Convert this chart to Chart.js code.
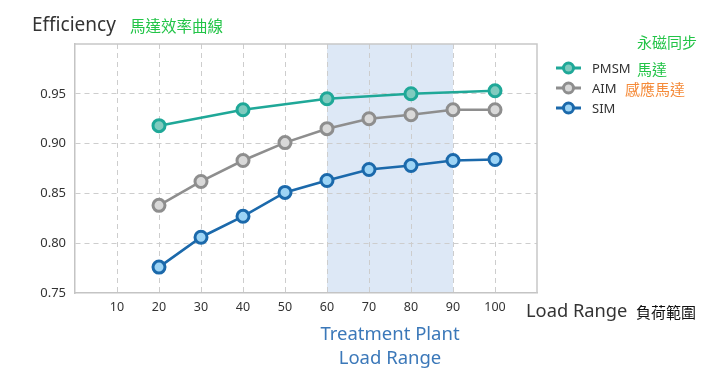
<!DOCTYPE html>
<html><head><meta charset="utf-8">
<script src="https://cdn.jsdelivr.net/npm/chart.js@4/dist/chart.umd.min.js"></script>
<style>
html,body{margin:0;padding:0;background:#fff;}
#wrap{position:relative;width:720px;height:375px;overflow:hidden;font-family:"Noto Sans","Noto Sans CJK TC",sans-serif;}
canvas{position:absolute;left:0;top:0;}
.t{position:absolute;white-space:nowrap;line-height:1;transform:translateY(-50%);}
.cjk{font-family:"Noto Sans CJK TC","Noto Sans",sans-serif;}
.lg{position:absolute;left:556px;width:25px;height:3px;transform:translateY(-50%);}
.lgc{position:absolute;left:6px;top:-5px;width:7px;height:7px;border-radius:50%;border:3px solid;}
</style></head><body>
<div id="wrap">
<canvas id="c" width="720" height="375"></canvas>
<div class="t" style="left:32px;top:24px;font-size:19px;color:#333;">Efficiency</div>
<div class="t cjk" style="left:130px;top:26px;font-size:15.5px;color:#22c447;">馬達效率曲線</div>
<div class="t cjk" style="left:637px;top:41px;font-size:15px;color:#22c447;">永磁同步</div>
<div class="t" style="left:592px;top:68px;font-size:13px;color:#333;">PMSM</div>
<div class="t cjk" style="left:637px;top:68px;font-size:15px;color:#22c447;">馬達</div>
<div class="t" style="left:592px;top:88px;font-size:13px;color:#333;">AIM</div>
<div class="t cjk" style="left:625px;top:88px;font-size:15px;color:#f58b3a;">感應馬達</div>
<div class="t" style="left:592px;top:108px;font-size:13px;color:#333;">SIM</div>
<div class="t" style="left:526px;top:310px;font-size:18.3px;color:#333;">Load Range</div>
<div class="t cjk" style="left:636px;top:311px;font-size:15px;color:#111;">負荷範圍</div>
<div class="t" style="left:290px;width:200px;text-align:center;top:333px;font-size:18.5px;color:#3b78b9;">Treatment Plant</div>
<div class="t" style="left:290px;width:200px;text-align:center;top:357px;font-size:18.5px;color:#3b78b9;">Load Range</div>
<div id="legend"></div>
</div>
<script>
// ---- data ----
const loadRange = [20, 30, 40, 50, 60, 70, 80, 90, 100];
const pmsm = [0.918, null, 0.934, null, 0.945, null, 0.950, null, 0.953];
const aim  = [0.838, 0.862, 0.883, 0.901, 0.915, 0.925, 0.929, 0.934, 0.934];
const sim  = [0.776, 0.806, 0.827, 0.851, 0.863, 0.874, 0.878, 0.883, 0.884];
const seriesNames = ['PMSM', 'AIM', 'SIM'];
const xTicks = [10, 20, 30, 40, 50, 60, 70, 80, 90, 100];
const yTicks = [0.75, 0.80, 0.85, 0.90, 0.95];
const shadeFrom = 60, shadeTo = 90;

const lineColors = ['#1fa898', '#8e8e8e', '#1b69ab'];
const fillColors = ['#80cbbf', '#d9d9d9', '#9dd4f5'];
const legendY = [68, 88, 108];

const toPts = arr => loadRange.map((x, i) => ({x: x, y: arr[i]}));
const seriesData = [pmsm, aim, sim];

const datasets = seriesData.map((arr, i) => ({
  label: seriesNames[i],
  data: toPts(arr),
  borderColor: lineColors[i],
  backgroundColor: fillColors[i],
  pointBackgroundColor: fillColors[i],
  pointBorderColor: lineColors[i],
  pointBorderWidth: 3,
  pointRadius: 6,
  borderWidth: 2.6,
  spanGaps: true,
  tension: 0,
  clip: false
}));

// legend markers
const lg = document.getElementById('legend');
seriesNames.forEach((n, i) => {
  const d = document.createElement('div');
  d.className = 'lg';
  d.style.top = legendY[i] + 'px';
  d.style.background = lineColors[i];
  const c = document.createElement('div');
  c.className = 'lgc';
  c.style.borderColor = lineColors[i];
  c.style.background = fillColors[i];
  d.appendChild(c);
  lg.appendChild(d);
});

const deco = {
  id: 'deco',
  beforeDraw(chart) {
    const {ctx, chartArea: a, scales: {x}} = chart;
    const x0 = x.getPixelForValue(shadeFrom), x1 = x.getPixelForValue(shadeTo);
    ctx.save();
    ctx.fillStyle = '#dde8f6';
    ctx.fillRect(x0, a.top, x1 - x0, a.bottom - a.top);
    ctx.restore();
  },
  beforeDatasetsDraw(chart) {
    const {ctx, chartArea: a} = chart;
    ctx.save();
    ctx.strokeStyle = '#c8c8c8';
    ctx.lineWidth = 1.5;
    ctx.beginPath();
    ctx.moveTo(a.left, a.top); ctx.lineTo(a.right, a.top); ctx.lineTo(a.right, a.bottom);
    ctx.stroke();
    ctx.restore();
  }
};

const near = (v, arr) => arr.some(t => Math.abs(t - v) < 1e-6);

new Chart(document.getElementById('c'), {
  type: 'line',
  data: {datasets},
  options: {
    responsive: false,
    animation: false,
    devicePixelRatio: 1,
    layout: {padding: {top: 44, right: 183, left: 0, bottom: 0}},
    plugins: {legend: {display: false}, tooltip: {enabled: false}},
    scales: {
      x: {
        type: 'linear', min: 0, max: 110,
        afterBuildTicks: s => { s.ticks = [0].concat(xTicks, [110]).map(v => ({value: v})); },
        afterFit: s => { s.height = 82; },
        ticks: {
          autoSkip: false, maxRotation: 0, padding: 7,
          color: '#333', font: {family: 'Noto Sans', size: 12.5},
          callback: v => near(v, xTicks) ? String(v) : ''
        },
        grid: {
          drawTicks: false, lineWidth: 1,
          color: c => (c.tick && near(c.tick.value, xTicks)) ? '#cdcdcd' : 'rgba(0,0,0,0)'
        },
        border: {color: '#c4c4c4', width: 1.5, dash: [5, 4]}
      },
      y: {
        min: 0.75, max: 1.0,
        afterBuildTicks: s => { s.ticks = yTicks.concat([1.0]).map(v => ({value: v})); },
        afterFit: s => { s.width = 75; },
        ticks: {
          padding: 9, color: '#333', font: {family: 'Noto Sans', size: 13},
          callback: v => near(v, yTicks) ? v.toFixed(2) : ''
        },
        grid: {
          drawTicks: false, lineWidth: 1,
          color: c => (c.tick && near(c.tick.value, yTicks) && !near(c.tick.value, [0.75])) ? '#cdcdcd' : 'rgba(0,0,0,0)'
        },
        border: {color: '#c4c4c4', width: 1.5, dash: [5, 4]}
      }
    }
  },
  plugins: [deco]
});
</script>
</body></html>
